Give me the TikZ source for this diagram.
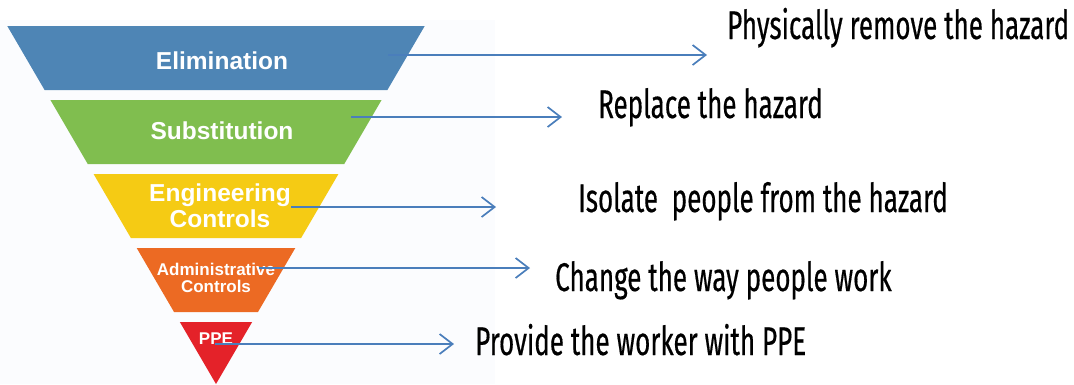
\documentclass[tikz,border=0pt]{standalone}
\usepackage{fontspec}
\usepackage{tikz}
\usetikzlibrary{arrows.meta, calc, positioning}
\setmainfont{Liberation Sans}
\newfontfamily\hazfont[FakeStretch=0.65, FakeBold=0.4]{Fira Sans}
\definecolor{elimblue}{HTML}{4E85B5}
\definecolor{substgreen}{HTML}{80BE4F}
\definecolor{enggold}{HTML}{F5CB14}
\definecolor{adminorange}{HTML}{EC6A23}
\definecolor{ppered}{HTML}{E42229}
\definecolor{arrowblue}{HTML}{4A7EBB}
\definecolor{paleback}{HTML}{FBFCFE}

\begin{document}
\begin{tikzpicture}[x=1pt, y=-1pt,
	band/.style={font=\bfseries\fontsize{24.5}{26}\selectfont, text=white, align=center, inner sep=0pt},
	smallband/.style={band, font=\bfseries\fontsize{17}{17}\selectfont},
	action/.style={font=\hazfont\fontsize{40}{42}\selectfont, anchor=base west, inner sep=0pt},
	pointer/.style={arrowblue, line width=1.7pt, -{Straight Barb[length=13pt, width=20pt, line width=1.7pt]}}]
	\useasboundingbox (0,0) rectangle (1074,384);
	\fill[paleback] (0,20) rectangle (495,384);
	\foreach \i/\col in {0/elimblue,1/substgreen,2/enggold,3/adminorange,4/ppered} {
			\pgfmathsetmacro\yt{26+74*\i}
			\pgfmathsetmacro\yb{min(\yt+64,384)}
			\pgfmathsetmacro\wt{0.583*(384-\yt)}
			\pgfmathsetmacro\wb{0.583*(384-\yb)}
			\fill[\col] ({216-\wt},\yt) -- ({216+\wt},\yt) -- ({216+\wb},\yb) -- ({216-\wb},\yb) -- cycle;
		}
	\node[band] (elim) at (222,61) {Elimination};
	\node[band] (subst) at (222,131) {Substitution};
	\node[band] (eng) at (220,206) {Engineering\\Controls};
	\node[smallband] (admin) at (216,278) {Administrative\\Controls};
	\node[smallband] (ppe) at (216,339) {PPE};
	\node[action] (phys) at (727,39) {Physically remove the hazard};
	\node[action] (repl) at (598,118) {Replace the hazard};
	\node[action] (isol) at (578,212) {Isolate\ \ people from the hazard};
	\node[action] (chg) at (555,291) {Change the way people work};
	\node[action] (prov) at (475,355) {Provide the worker with PPE};
	\foreach \n/\sx/\tx/\y in {1/388/707/55, 2/351/562/117, 3/291/496/207, 4/259/530/268, 5/215/454/344} {
			\coordinate (s\n) at (\sx,\y);
			\coordinate (t\n) at (\tx,\y);
			\draw[pointer] (s\n) -- (t\n);
		}
\end{tikzpicture}
\end{document}
